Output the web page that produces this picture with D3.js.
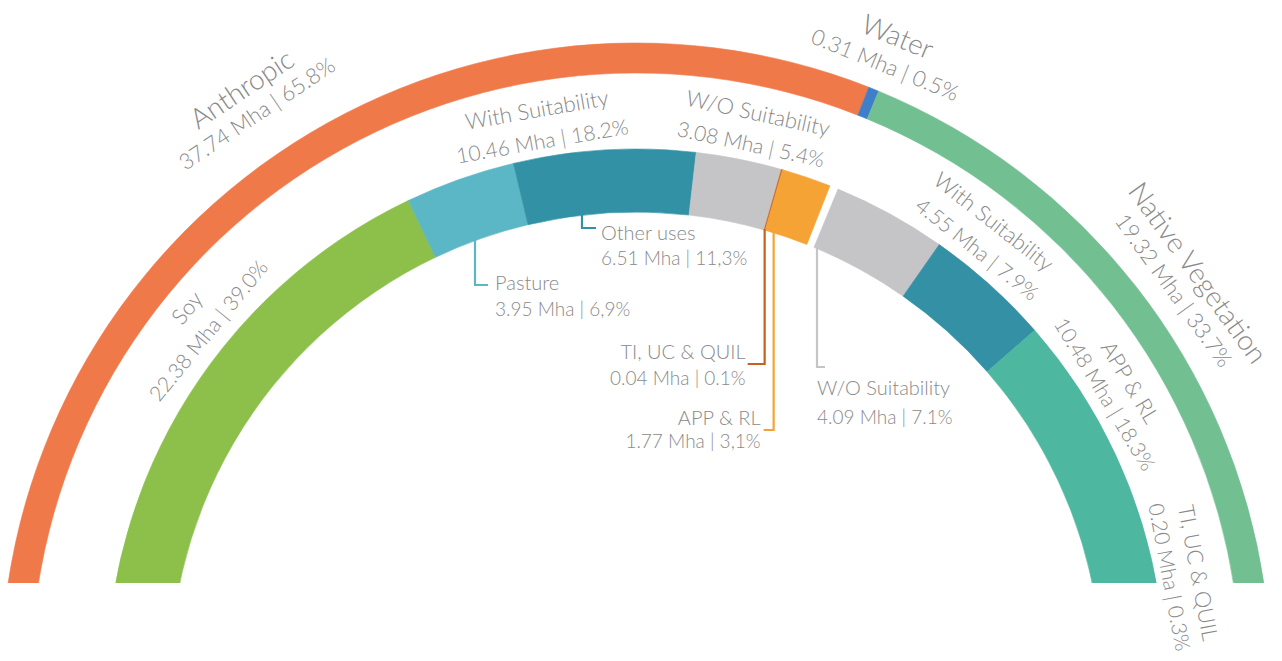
<!DOCTYPE html>
<html>
<head>
<meta charset="utf-8">
<script src="https://cdn.jsdelivr.net/npm/d3@7"></script>
<style>
  html, body { margin: 0; padding: 0; background: #fff; }
  svg { display: block; }
  text { font-family: Lato, "Open Sans", sans-serif; font-weight: 300; fill: #8a8a8a; }
</style>
</head>
<body>
<svg id="chart" width="1282" height="661"></svg>
<script>
// Outer ring: land cover groups (Mha)
const groups = ["Anthropic", "Water", "Native Vegetation"];
const groupArea = [37.74, 0.31, 19.32];
const groupShare = ["65.8%", "0.5%", "33.7%"];
const groupColors = ["#f0794a", "#3f7fc9", "#72bf92"];

// Inner ring: land use classes (Mha), in order around the arc
const classes = ["Soy", "Pasture", "Other uses", "W/O Suitability", "TI, UC & QUIL", "APP & RL",
                 "Water", "W/O Suitability", "With Suitability", "APP & RL", "TI, UC & QUIL"];
const classArea = [22.38, 3.95, 6.51, 3.08, 0.04, 1.77, 0.31, 4.09, 4.55, 10.48, 0.20];
const classShare = ["39.0%", "6,9%", "11,3%", "5.4%", "0.1%", "3,1%", "0.5%", "7.1%", "7.9%", "18.3%", "0.3%"];
const classColors = ["#8cc04a", "#5bb7c5", "#3391a6", "#c5c5c7", "#c8601e", "#f4a334",
                     "none", "#c5c5c7", "#3490a5", "#4db7a0", "#88cbbf"];

// Suitability subtotal for pasture + other uses
const suitGroup = ["With Suitability"];
const suitArea = [10.46];
const suitShare = ["18.2%"];

const fmt = (a, s) => `${a.toFixed(2)} Mha | ${s}`;
const rad = d => d * Math.PI / 180;

const svg = d3.select("#chart");
const cx = 636, cy = 678, baseY = 583;
const rings = { outer: [605, 635], inner: [466, 529] };

svg.append("defs").append("clipPath").attr("id", "baseline")
  .append("rect").attr("x", -cx).attr("y", -cy).attr("width", 1282).attr("height", baseY);

const pie = d3.pie().sort(null).value(d => d).startAngle(rad(-94)).endAngle(rad(81.6));
const outerArc = d3.arc().innerRadius(rings.outer[0]).outerRadius(rings.outer[1]);
const innerArc = d3.arc().innerRadius(rings.inner[0]).outerRadius(rings.inner[1]);

const g = svg.append("g").attr("transform", `translate(${cx},${cy})`);
const arcs = g.append("g").attr("clip-path", "url(#baseline)");

const outerSlices = pie(groupArea);
const innerSlices = pie(classArea);

arcs.selectAll("path.outer").data(outerSlices).join("path")
  .attr("class", "outer")
  .attr("d", outerArc)
  .attr("fill", (d, i) => groupColors[i])
  .attr("stroke", (d, i) => groupColors[i])
  .attr("stroke-width", 0.6);

arcs.selectAll("path.inner").data(innerSlices).join("path")
  .attr("class", "inner")
  .attr("d", innerArc)
  .attr("fill", (d, i) => classColors[i])
  .attr("stroke", (d, i) => classColors[i] === "none" ? "none" : classColors[i])
  .attr("stroke-width", 0.6);

// Labels placed along the rings, rotated tangent to them
function tangentLabel(lines) {
  lines.forEach(l => {
    const a = rad(l.angle);
    const x = l.r * Math.sin(a), y = -l.r * Math.cos(a);
    g.append("text")
      .attr("transform", `translate(${x},${y}) rotate(${l.angle})`)
      .attr("text-anchor", "middle")
      .attr("dy", "0.36em")
      .style("font-size", l.size + "px")
      .text(l.text);
  });
}

// group labels
tangentLabel([
  { text: groups[0], angle: -33.8, r: 709, size: 28 },
  { text: fmt(groupArea[0], groupShare[0]), angle: -33.9, r: 680, size: 22 },
  { text: groups[1], angle: 22.2, r: 693, size: 28 },
  { text: fmt(groupArea[1], groupShare[1]), angle: 22.1, r: 662, size: 22 },
  { text: groups[2], angle: 54.2, r: 693, size: 28 },
  { text: fmt(groupArea[2], groupShare[2]), angle: 54.2, r: 663, size: 22 }
]);

// class labels above the inner ring
tangentLabel([
  { text: classes[0], angle: -50.5, r: 582, size: 22 },
  { text: fmt(classArea[0], classShare[0]), angle: -50.9, r: 551, size: 21 },
  { text: suitGroup[0], angle: -9.9, r: 577, size: 22 },
  { text: fmt(suitArea[0], suitShare[0]), angle: -9.9, r: 545, size: 21 },
  { text: classes[3], angle: 12.2, r: 578, size: 22 },
  { text: fmt(classArea[3], classShare[3]), angle: 12.15, r: 546, size: 21 },
  { text: classes[8], angle: 38.1, r: 580, size: 22 },
  { text: fmt(classArea[8], classShare[8]), angle: 38.5, r: 548, size: 21 },
  { text: classes[9], angle: 59.1, r: 576, size: 22 },
  { text: fmt(classArea[9], classShare[9]), angle: 58.8, r: 548, size: 21 },
  { text: classes[10], angle: 79.4, r: 572, size: 22 },
  { text: fmt(classArea[10], classShare[10]), angle: 79.3, r: 543, size: 21 }
]);

// Leader-line labels below the inner ring
const rIn = rings.inner[0];
const ringTop = x => cy - Math.sqrt(rIn * rIn - (x - cx) * (x - cx)) - 1;
const midX = s => cx + rIn * Math.sin((s.startAngle + s.endAngle) / 2);

const tiX = midX(innerSlices[4]);
const leaders = [
  { i: 1, x: 475, corner: 285, end: 488, tx: 495, anchor: "start", y1: 290, y2: 316 },
  { i: 2, x: 582, corner: 228, end: 596, tx: 601, anchor: "start", y1: 240, y2: 265 },
  { i: 4, x: tiX, corner: 364, end: tiX - 17, tx: tiX - 19, anchor: "end", y1: 359, y2: 385 },
  { i: 5, x: tiX + 9, corner: 430, end: tiX - 1, tx: tiX - 4, anchor: "end", y1: 425, y2: 448 },
  { i: 7, x: 817, corner: 367, end: 825, tx: 817, anchor: "start", y1: 395, y2: 424 }
];

leaders.forEach(l => {
  svg.append("path")
    .attr("d", `M${l.x},${ringTop(l.x)}V${l.corner}H${l.end}`)
    .attr("fill", "none")
    .attr("stroke", classColors[l.i])
    .attr("stroke-width", 2.2);
  const t = svg.append("text").attr("text-anchor", l.anchor);
  t.append("tspan").attr("x", l.tx).attr("y", l.y1).style("font-size", "20px").text(classes[l.i]);
  t.append("tspan").attr("x", l.tx).attr("y", l.y2).style("font-size", "19px").text(fmt(classArea[l.i], classShare[l.i]));
});
</script>
</body>
</html>
